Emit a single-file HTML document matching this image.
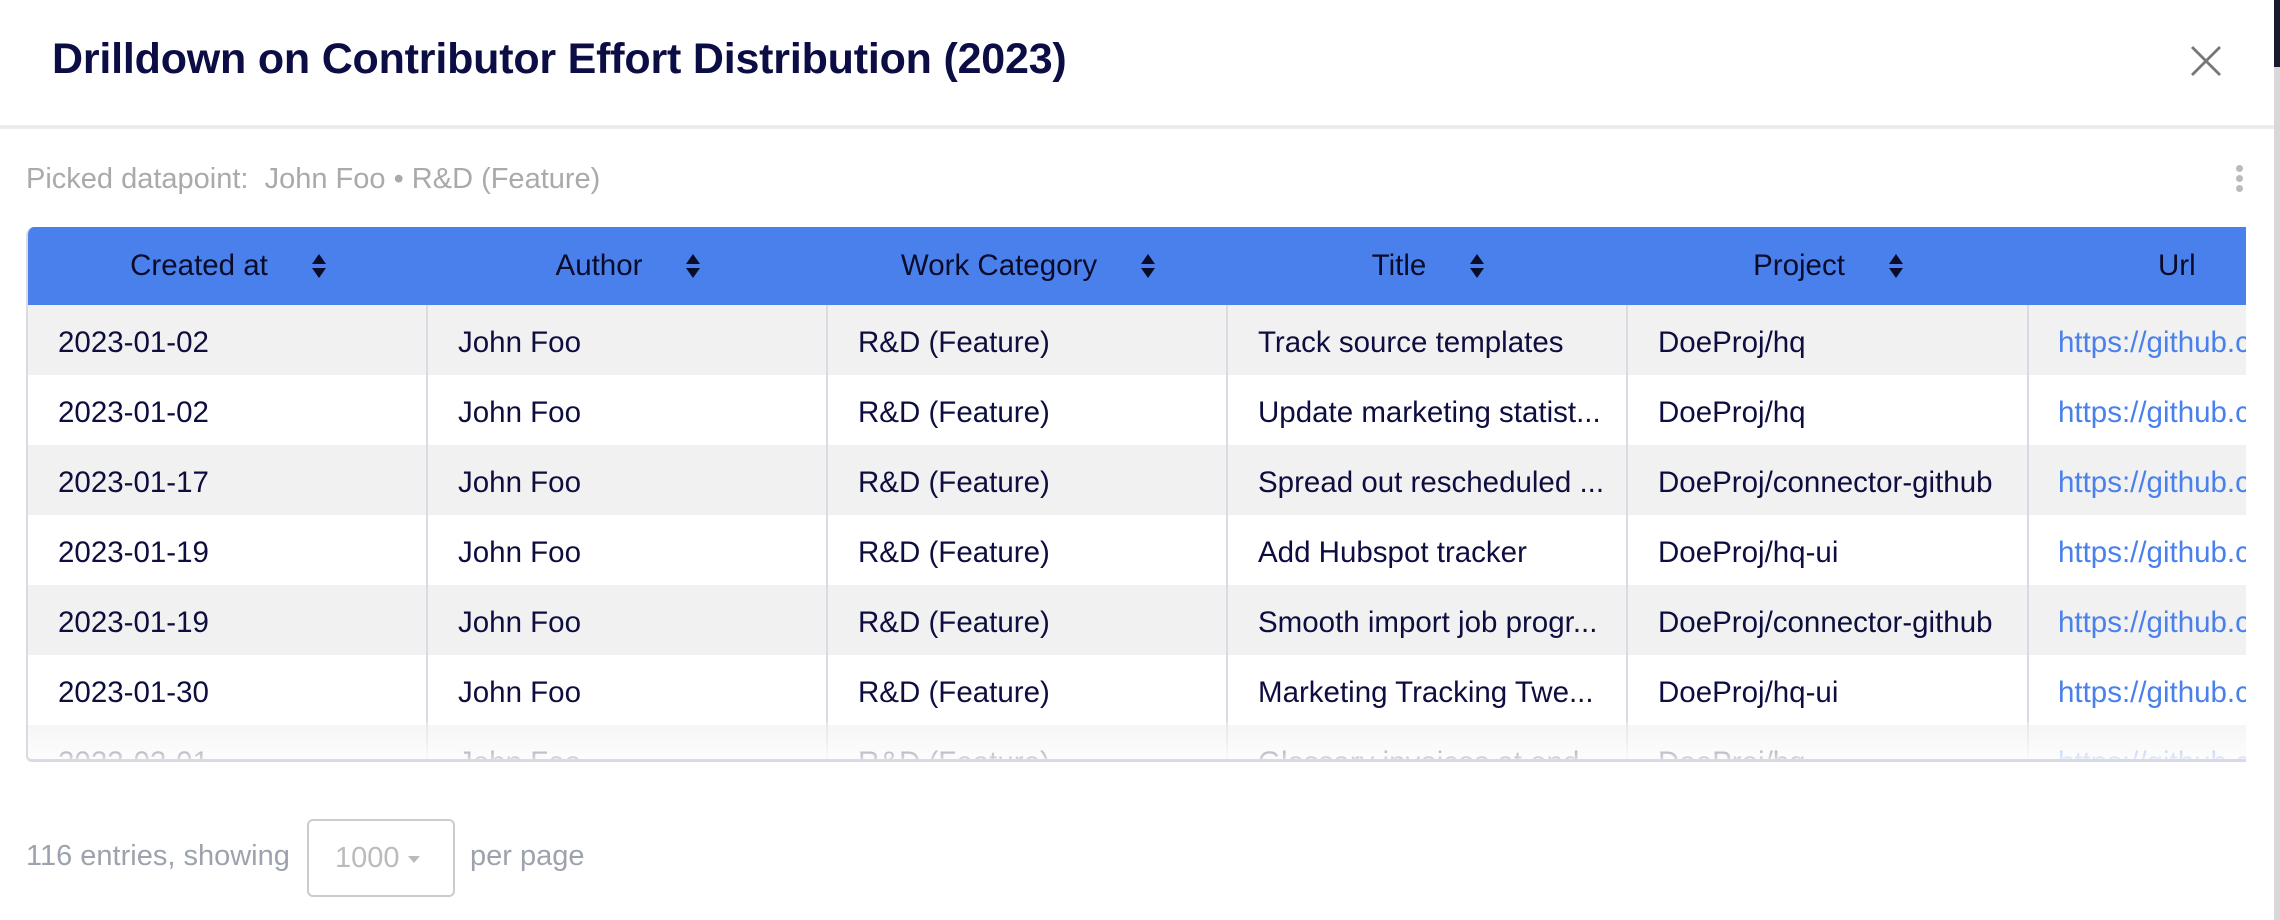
<!DOCTYPE html>
<html><head><meta charset="utf-8"><style>
*{margin:0;padding:0;box-sizing:border-box}
body{width:2280px;height:920px;background:#fff;font-family:"Liberation Sans",sans-serif;position:relative;overflow:hidden}
.title{position:absolute;left:52px;top:35px;font-size:43px;font-weight:bold;color:#0d0d45;letter-spacing:-0.2px;white-space:nowrap}
.sep{position:absolute;left:0;top:125px;width:2274px;height:4px;background:#ececec}
.rb{position:absolute;left:2274px;top:0;width:6px;height:920px;background:#d8d8d8}
.rb2{position:absolute;left:2274px;top:0;width:6px;height:67px;background:#1a1a2e}
.close{position:absolute;left:2190px;top:45px;width:32px;height:32px}
.picked{position:absolute;left:26px;top:163px;font-size:29px;color:#aaa;white-space:nowrap}
.dots{position:absolute;left:2236px;top:165px;width:8px}
.dots i{display:block;width:7px;height:7px;border-radius:50%;background:#bbb;margin-bottom:3px}
.table{position:absolute;left:26px;top:227px;width:2220px;height:535px;overflow:hidden;border-left:2px solid #d8dbe3;border-bottom:3px solid #d8dbe3;border-top-left-radius:8px;border-bottom-left-radius:6px}
.head{position:absolute;left:0;top:0;width:2220px;height:78px;background:#4a80ec}
.hc{position:absolute;top:0;height:78px;display:flex;align-items:center;justify-content:center;font-size:29.5px;color:#0b0b2a;width:400px}
.sort{display:inline-block;margin-left:44px;width:14px;height:24px;position:relative}
.sort:before{content:"";position:absolute;left:0;top:0;border-left:7px solid transparent;border-right:7px solid transparent;border-bottom:10px solid #0b0b2a}
.sort:after{content:"";position:absolute;left:0;bottom:0;border-left:7px solid transparent;border-right:7px solid transparent;border-top:10px solid #0b0b2a}
.row{position:absolute;left:0;width:2220px;height:70px}
.row.g{background:#f1f1f1}
.c{position:absolute;top:3px;height:70px;line-height:70px;font-size:29.5px;color:#0d0d3f;white-space:nowrap;overflow:hidden;padding-left:30px}
.c.u{color:#4a80ec}
.vl{position:absolute;top:78px;width:2px;height:460px;background:#d8dbe3}
.fade{position:absolute;left:0;top:495px;width:2220px;height:45px;background:linear-gradient(rgba(255,255,255,0.3),rgba(255,255,255,0.95))}
.foot{position:absolute;top:840px;font-size:29px;color:#9ca3af;white-space:nowrap}
.sel{position:absolute;left:307px;top:819px;width:148px;height:78px;border:2px solid #ccc;border-radius:6px;font-size:29px;color:#bbb;padding-left:26px;line-height:74px}
.sel span{display:inline-block;margin-left:8px;border-left:6px solid transparent;border-right:6px solid transparent;border-top:7px solid #bbb;vertical-align:middle}
</style></head><body>
<div class="title">Drilldown on Contributor Effort Distribution (2023)</div>
<svg class="close" viewBox="0 0 32 32"><path d="M2 2L30 30M30 2L2 30" stroke="#777" stroke-width="2.8" fill="none"/></svg>
<div class="sep"></div>
<div class="rb"></div><div class="rb2"></div>
<div class="picked">Picked datapoint:&nbsp; John Foo • R&amp;D (Feature)</div>
<div class="dots"><i></i><i></i><i></i></div>
<div class="table">
<div class="head">
<div class="hc" style="left:0">Created at<span class="sort"></span></div>
<div class="hc" style="left:400px">Author<span class="sort"></span></div>
<div class="hc" style="left:800px">Work Category<span class="sort"></span></div>
<div class="hc" style="left:1200px">Title<span class="sort"></span></div>
<div class="hc" style="left:1600px">Project<span class="sort"></span></div>
<div class="hc" style="left:2000px;justify-content:flex-start;padding-left:130px">Url</div>
</div>
<div class="row g" style="top:78px"><div class="c" style="left:0">2023-01-02</div><div class="c" style="left:400px">John Foo</div><div class="c" style="left:800px">R&amp;D (Feature)</div><div class="c" style="left:1200px">Track source templates</div><div class="c" style="left:1600px">DoeProj/hq</div><div class="c u" style="left:2000px">https://github.com/DoeProj</div></div>
<div class="row" style="top:148px"><div class="c" style="left:0">2023-01-02</div><div class="c" style="left:400px">John Foo</div><div class="c" style="left:800px">R&amp;D (Feature)</div><div class="c" style="left:1200px">Update marketing statist...</div><div class="c" style="left:1600px">DoeProj/hq</div><div class="c u" style="left:2000px">https://github.com/DoeProj</div></div>
<div class="row g" style="top:218px"><div class="c" style="left:0">2023-01-17</div><div class="c" style="left:400px">John Foo</div><div class="c" style="left:800px">R&amp;D (Feature)</div><div class="c" style="left:1200px">Spread out rescheduled ...</div><div class="c" style="left:1600px">DoeProj/connector-github</div><div class="c u" style="left:2000px">https://github.com/DoeProj</div></div>
<div class="row" style="top:288px"><div class="c" style="left:0">2023-01-19</div><div class="c" style="left:400px">John Foo</div><div class="c" style="left:800px">R&amp;D (Feature)</div><div class="c" style="left:1200px">Add Hubspot tracker</div><div class="c" style="left:1600px">DoeProj/hq-ui</div><div class="c u" style="left:2000px">https://github.com/DoeProj</div></div>
<div class="row g" style="top:358px"><div class="c" style="left:0">2023-01-19</div><div class="c" style="left:400px">John Foo</div><div class="c" style="left:800px">R&amp;D (Feature)</div><div class="c" style="left:1200px">Smooth import job progr...</div><div class="c" style="left:1600px">DoeProj/connector-github</div><div class="c u" style="left:2000px">https://github.com/DoeProj</div></div>
<div class="row" style="top:428px"><div class="c" style="left:0">2023-01-30</div><div class="c" style="left:400px">John Foo</div><div class="c" style="left:800px">R&amp;D (Feature)</div><div class="c" style="left:1200px">Marketing Tracking Twe...</div><div class="c" style="left:1600px">DoeProj/hq-ui</div><div class="c u" style="left:2000px">https://github.com/DoeProj</div></div>
<div class="row g" style="top:498px"><div class="c" style="left:0">2023-02-01</div><div class="c" style="left:400px">John Foo</div><div class="c" style="left:800px">R&amp;D (Feature)</div><div class="c" style="left:1200px">Glossary invoices at end...</div><div class="c" style="left:1600px">DoeProj/hq</div><div class="c u" style="left:2000px">https://github.com/DoeProj</div></div>
<div class="vl" style="left:398px"></div><div class="vl" style="left:798px"></div><div class="vl" style="left:1198px"></div><div class="vl" style="left:1598px"></div><div class="vl" style="left:1999px"></div>
<div class="fade"></div>
</div>
<div class="foot" style="left:26px">116 entries, showing</div>
<div class="sel">1000<span></span></div>
<div class="foot" style="left:470px">per page</div>
</body></html>
